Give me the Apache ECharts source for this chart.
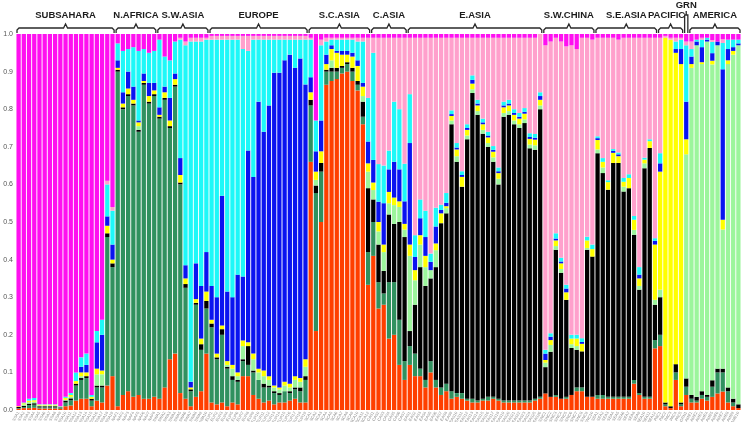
<!DOCTYPE html>
<html><head><meta charset="utf-8">
<script src="https://cdn.jsdelivr.net/npm/echarts@6/dist/echarts.min.js"></script>
<style>html,body{margin:0;padding:0;background:#fff}#c{width:746px;height:422px}</style>
</head><body><div id="c"></div>
<script>
// cluster order (bottom -> top)
const clusterNames = ['K1','K2','K3','K4','K5','K6','K7','K8','K9'];
const clusterColors = ['#ff3f00','#30915f','#000000','#9cf59c','#ffff00','#0a14f0','#1ef8f8','#ffa0cc','#ff10f0'];
const regionNames = ['SUBSAHARA','N.AFRICA','S.W.ASIA','EUROPE','S.C.ASIA','C.ASIA','E.ASIA','S.W.CHINA','S.E.ASIA','PACIFIC','GRN','AMERICA'];
const regionCodes = ['SSA','NAF','SWA','EUR','SCA','CAS','EAS','SWC','SEA','PAC','GRN','AME'];

// each row = one individual: [K1..K9] ancestry fractions
const subsahara = [
[.003,.002,.003,0,.002,0,0,0,.99],[.005,.003,.003,.004,.003,0,.002,0,.98],[.005,.008,.004,.004,.004,0,.005,0,.97],
[.006,.008,.004,.004,.004,0,.006,0,.968],[.004,.003,.003,.002,.002,0,.001,0,.985],[.004,.003,.003,.002,.002,0,.001,0,.985],
[.004,.003,.003,.002,.002,0,.001,0,.985],[.004,.003,.003,.002,.002,0,.001,0,.985],[.003,.002,.002,.001,.001,0,.001,0,.99],
[.01,.01,.005,.002,.005,0,.003,0,.965],[.012,.014,.005,.004,.005,0,.005,0,.955],[.025,.04,.005,0,.007,0,.023,0,.9],
[.03,.05,.005,.005,.01,.015,.025,0,.86],[.03,.055,.005,0,.01,.02,.03,0,.85],[.01,.015,.005,0,.005,0,.005,0,.96],
[.025,.035,.005,.03,.015,.07,.03,0,.79],[.02,.04,.005,.03,.01,.095,.04,0,.76],[.065,.395,.01,0,.02,.025,.085,.01,.39],
[.09,.29,.01,0,.01,.04,.09,.01,.46]];
const nafrica = [
[.01,.89,.005,0,.005,.02,.045,0,.025],[.04,.76,.005,0,.01,.03,.11,0,.045],[.05,.785,.005,0,.015,.045,.06,0,.04],
[.035,.775,.005,0,.01,.035,.105,0,.035],[.04,.7,.005,.01,.01,.005,.185,0,.045],[.03,.835,.005,0,.005,.02,.065,0,.04],
[.03,.785,.005,0,.015,.035,.08,0,.05],[.035,.8,.005,0,.01,.02,.085,0,.045]];
const swasia = [
[.03,.745,.005,0,.005,.02,.18,0,.015],[.06,.765,.005,0,.015,.015,.08,0,.06],[.135,.615,.005,0,.015,.06,.1,0,.07],
[.15,.71,.005,0,.015,.015,.085,0,.02],[.045,.555,.005,0,.02,.045,.315,.005,.01],[.03,.295,.01,0,.015,.035,.585,.01,.02],
[.01,.04,.005,0,.005,.015,.905,.01,.01],[.035,.245,.005,0,.01,.095,.59,.01,.01],[.05,.11,.015,0,.015,.14,.65,.01,.01],
[.15,.12,.02,0,.025,.105,.565,.005,.01]];
const europe = [
[.02,.2,.01,0,.01,.09,.655,.01,.005],[.015,.12,.005,0,.01,.15,.685,.01,.005],[.02,.18,.015,0,.01,.345,.415,.01,.005],
[.01,.1,.005,.005,.01,.185,.67,.01,.005],[.02,.06,.01,.02,.01,.18,.685,.01,.005],[.015,.06,.005,.01,.01,.26,.625,.01,.005],
[.09,.04,.005,.035,.015,.17,.605,.035,.005],[.09,.03,.05,0,.01,.51,.265,.04,.005],[.04,.06,.005,.03,.015,.47,.365,.01,.005],
[.03,.05,0,.02,.01,.71,.165,.01,.005],[.02,.04,.01,.02,.015,.635,.245,.01,.005],[.025,.035,.005,.015,.01,.72,.175,.01,.005],
[.015,.03,.005,.01,.005,.832,.088,.01,.005],[.02,.02,.005,.01,.005,.837,.088,.01,.005],[.02,.03,0,.015,.01,.855,.055,.01,.005],
[.025,.02,.005,.01,.01,.875,.04,.01,.005],[.03,.025,.005,.02,.01,.82,.075,.01,.005],[.02,.03,.01,.015,.01,.85,.05,.01,.005],
[.02,.06,.01,.025,.02,.731,.119,.01,.005]];
const scasia = [
[.66,.15,.015,0,.02,.04,.1,.005,.01],[.21,.367,.02,.015,.022,.054,.082,0,.23],[.5,.134,.023,0,.031,.082,.2,.015,.015],
[.865,.035,.005,0,.015,.025,.035,.01,.01],[.875,.025,.01,.02,.03,.01,.015,.005,.01],[.88,.02,.01,0,.04,.005,.03,.005,.01],
[.895,.015,.005,0,.03,.01,.03,.005,.01],[.9,.02,.005,0,.02,.01,.03,.005,.01],[.875,.025,.01,0,.03,.01,.035,.005,.01],
[.85,.015,.01,0,.04,.015,.05,.01,.01],[.76,.02,.04,.015,.025,.01,.11,.01,.01],[.333,.087,.17,.044,.022,.058,.116,.16,.01]];
const casia = [
[.41,.09,.06,.025,.02,.06,.285,.04,.01],[.27,.07,.1,.035,.025,.054,.1,.336,.01],[.28,.03,.06,.05,.02,.11,.1,.34,.01],
[.19,.15,.18,.03,.03,.06,.05,.3,.01],[.2,.14,.155,.05,.02,.095,.16,.17,.01],[.12,.12,.26,.04,.015,.085,.16,.19,.01],
[.08,.05,.33,.02,.015,.06,.1,.335,.01]];
const easia = [
[.12,.05,.04,.2,.03,.27,.13,.15,.01],[.09,.06,.13,.065,.027,.035,.058,.525,.01],[.09,.02,.27,.06,.025,.045,.05,.43,.01],
[.06,.02,.25,.05,.03,.05,.07,.46,.01],[.1,.03,.22,.022,0,.022,.022,.574,.01],[.06,.02,.3,.045,.018,.045,.05,.452,.01],
[.04,.02,.437,0,.026,.009,.014,.444,.01],[.05,.02,.453,.014,.005,.009,.026,.413,.01],[.03,.02,.71,.01,.012,.005,.01,.193,.01],
[.035,.01,.615,.015,.018,.005,.012,.28,.01],[.03,.015,.549,0,.026,.005,.01,.355,.01],[.025,.005,.69,.01,.015,.005,.01,.23,.01],
[.02,.01,.813,.01,.015,.01,.012,.1,.01],[.02,.005,.76,.01,.015,.005,.01,.165,.01],[.025,.005,.705,.01,.015,.005,.01,.215,.01],
[.025,.01,.665,.01,.015,.005,.01,.25,.01],[.03,.005,.625,.012,.015,.005,.01,.288,.01],[.025,.005,.57,.015,.015,.005,.01,.345,.01],
[.02,.005,.755,.01,.015,.005,.01,.17,.01],[.02,.005,.76,.01,.015,.005,.01,.165,.01],[.02,.005,.735,.01,.015,.005,.01,.19,.01],
[.02,.005,.725,.01,.015,.005,.01,.2,.01],[.02,.005,.738,.01,.015,.005,.01,.187,.01],[.02,.005,.671,.01,.015,.005,.01,.254,.01],
[.025,.005,.662,.012,.015,.005,.01,.256,.01],[.03,.005,.765,.01,.015,.01,.01,.155,.01]];
const swchina = [
[.044,0,.07,.012,.007,.017,.01,.81,.03],[.035,0,.12,.018,.013,.009,.009,.776,.02],[.035,.005,.386,.01,.015,.005,.014,.52,.01],
[.03,0,.335,.01,.015,.005,.01,.575,.02],[.03,.005,.258,0,.02,.01,.01,.634,.033],[.04,0,.125,.01,.015,0,.01,.77,.03],
[.05,.01,.1,.01,.02,0,.01,.76,.04],[.05,.01,.096,0,.02,.005,.01,.799,.01],[.035,0,.391,.005,.02,0,.01,.529,.01],
[.035,0,.373,0,.02,0,.012,.545,.015]];
const seasia = [
[.03,.01,.643,.01,.025,.005,.005,.262,.01],[.03,.01,.59,.015,.015,0,.01,.32,.01],[.03,.005,.551,0,.02,0,.005,.379,.01],
[.03,.005,.622,0,.027,.005,.005,.296,.01],[.03,.005,.622,0,.018,.005,.005,.3,.015],[.03,.005,.546,.013,.013,0,.01,.373,.01],
[.03,.005,.555,0,.027,0,.01,.363,.01],[.07,.01,.386,.013,.027,0,.01,.474,.01],[.04,.005,.275,.01,.02,.01,.02,.61,.01],
[.03,.005,.608,.013,.01,0,.005,.319,.01],[.03,.005,.662,0,.018,0,.005,.27,.01],[.164,.022,.094,.013,.147,.01,.007,.533,.01]];
const pacific = [
[.17,.03,.1,.02,.314,.022,.027,.307,.01],[.01,.005,.005,0,.97,0,0,.005,.005],[.005,0,.005,0,.975,0,0,.005,.01],
[.08,.02,.022,0,.828,.01,.02,.01,.01],[.01,.005,.005,0,.9,.04,.025,.005,.01]];
const grn = [[.04,.022,.022,.596,.04,.1,.15,.01,.02]];
const america = [
[.02,.01,.01,.87,.01,.02,.02,.02,.02],[.02,.005,.01,.935,0,.01,.005,0,.015],[.03,.01,.01,.87,.005,.04,.02,.005,.01],
[.025,.01,.005,.94,0,.005,.005,0,.01],[.035,.027,.017,.84,.01,.02,.03,.005,.016],[.044,.056,.01,.86,0,.01,0,0,.02],
[.049,.051,.01,.37,.026,.4,.07,.01,.014],[.02,.03,.01,.86,.01,.03,.025,0,.015],[.01,.01,.01,.915,.01,.01,.02,0,.015],
[.005,0,.01,.955,0,.005,.01,0,.015]];
const yTicks = [0,0.1,0.2,0.3,0.4,0.5,0.6,0.7,0.8,0.9,1.0];

const regions = [subsahara,nafrica,swasia,europe,scasia,casia,easia,swchina,seasia,pacific,grn,america];
const rows = [], categories = [], spans = [];
regions.forEach((r, ri) => {
  const start = rows.length;
  r.forEach((row, i) => { rows.push(row); categories.push(regionCodes[ri] + (i + 1)); });
  spans.push([start, rows.length - 1]);
});

const chart = echarts.init(document.getElementById('c'), null, {renderer: 'canvas'});
const series = clusterNames.map((n, k) => ({
  name: n, type: 'bar', stack: 'q', silent: true,
  barCategoryGap: '18%',
  itemStyle: {color: clusterColors[k]},
  data: rows.map(r => r[k])
}));
chart.setOption({
  animation: false,
  backgroundColor: '#ffffff',
  grid: {left: 16, right: 5, top: 34, bottom: 12, containLabel: false, outerBoundsMode: 'none'},
  xAxis: {type: 'category', data: categories, axisLine: {show: false}, axisTick: {show: false},
    axisLabel: {interval: 0, rotate: 60, fontSize: 4, color: '#8a8a8a', margin: 2, fontFamily: 'Liberation Sans'}},
  yAxis: {type: 'value', min: 0, max: 1, interval: 0.1, axisLine: {show: false}, axisTick: {show: false},
    splitLine: {show: false},
    axisLabel: {fontSize: 7, color: '#555', margin: 3, fontFamily: 'Liberation Sans',
      formatter: v => yTicks.indexOf(Math.round(v * 10) / 10) >= 0 ? v.toFixed(1) : ''}},
  series: series
});

const band = chart.getModel().getComponent('xAxis', 0).axis.getBandWidth();
const els = [];
const labelFont = 'bold 9.5px "Liberation Sans"';
spans.forEach((s, ri) => {
  const x0 = chart.convertToPixel({xAxisIndex: 0}, s[0]) - band / 2 + 1;
  const x1 = chart.convertToPixel({xAxisIndex: 0}, s[1]) + band / 2 - 1;
  const xm = (x0 + x1) / 2;
  const st = {stroke: '#2a2a2a', lineWidth: 1.3, fill: null};
  if (regionNames[ri] === 'GRN') {
    els.push({type: 'polyline', silent: true, shape: {points: [[x0, 33], [x0, 15], [x1, 15], [x1, 33]]}, style: st});
    els.push({type: 'polyline', silent: true, shape: {points: [[xm, 15], [xm, 11]]}, style: st});
    els.push({type: 'text', silent: true, style: {text: 'GRN', x: xm, y: 5, align: 'center', verticalAlign: 'middle',
      font: labelFont, fill: '#1c1c1c'}});
  } else {
    els.push({type: 'polyline', silent: true, shape: {points: [[x0, 33], [x0, 30], [x0 + 2, 28], [xm - 2, 28], [xm, 24], [xm + 2, 28], [x1 - 2, 28], [x1, 30], [x1, 33]]}, style: st});
    const tx = regionNames[ri] === 'PACIFIC' ? xm - 4 : xm;
    els.push({type: 'text', silent: true, style: {text: regionNames[ri], x: tx, y: 15.5, align: 'center', verticalAlign: 'middle',
      font: labelFont, fill: '#1c1c1c'}});
  }
});
chart.setOption({graphic: els});
</script>
</body></html>
